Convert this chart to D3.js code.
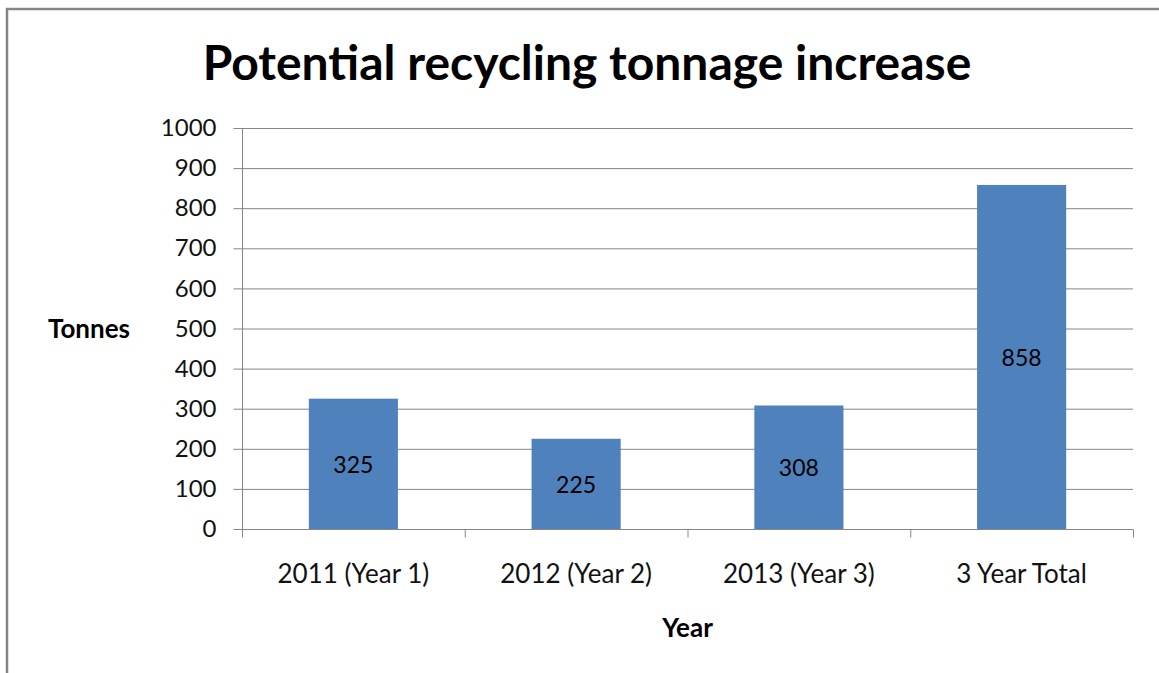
<!DOCTYPE html>
<html>
<head>
<meta charset="utf-8">
<script src="https://cdn.jsdelivr.net/npm/d3@7"></script>
<style>
  body { margin: 0; background: #fff; }
  svg { display: block; font-family: Lato, "Open Sans", sans-serif; }
</style>
</head>
<body>
<div id="chart-area"></div>
<script>
// chart data
var categories = ["2011 (Year 1)", "2012 (Year 2)", "2013 (Year 3)", "3 Year Total"];
var tonnes = [325, 225, 308, 858];
var yTicks = [0, 100, 200, 300, 400, 500, 600, 700, 800, 900, 1000];

var W = 1159, H = 673;
var margin = {top: 128, left: 242, right: 26, bottom: 144};
var width = W - margin.left - margin.right;
var height = H - margin.top - margin.bottom;

var svg = d3.select("#chart-area").append("svg")
    .attr("width", W)
    .attr("height", H);

// outer frame
svg.append("rect")
    .attr("x", 7).attr("y", 9)
    .attr("width", W + 10).attr("height", H + 10)
    .attr("fill", "none")
    .attr("stroke", "#868686")
    .attr("stroke-width", 2.5);

svg.append("text")
    .attr("x", 587).attr("y", 80)
    .attr("text-anchor", "middle")
    .attr("font-size", "48px")
    .attr("font-weight", "bold")
    .attr("fill", "#000")
    .text("Potential recycling tonnage increase");

var g = svg.append("g")
    .attr("transform", "translate(" + margin.left + "," + margin.top + ")");

var x = d3.scaleBand()
    .domain(categories)
    .range([0, width])
    .paddingInner(0)
    .paddingOuter(0);

var y = d3.scaleLinear()
    .domain([0, 1000])
    .range([height, 0]);

// gridlines
g.selectAll(".grid")
    .data(yTicks.slice(1))
    .enter().append("line")
    .attr("class", "grid")
    .attr("x1", 0).attr("x2", width)
    .attr("y1", d => y(d) + 0.5).attr("y2", d => y(d) + 0.5)
    .attr("stroke", "#868686")
    .attr("stroke-width", 1);

var barW = x.bandwidth() / 2.5;

g.selectAll(".bar")
    .data(tonnes)
    .enter().append("rect")
    .attr("class", "bar")
    .attr("x", (d, i) => x(categories[i]) + (x.bandwidth() - barW) / 2)
    .attr("y", d => y(d))
    .attr("width", barW)
    .attr("height", d => height - y(d))
    .attr("fill", "#4F81BD");

g.selectAll(".val")
    .data(tonnes)
    .enter().append("text")
    .attr("class", "val")
    .attr("x", (d, i) => x(categories[i]) + x.bandwidth() / 2)
    .attr("y", d => (y(d) + height) / 2 + 9)
    .attr("text-anchor", "middle")
    .attr("font-size", "23px")
    .attr("fill", "#000")
    .text(d => d);

// y axis
var leftAxis = d3.axisLeft(y)
    .tickValues(yTicks)
    .tickFormat(d3.format("d"))
    .tickSize(9)
    .tickPadding(17);
var ya = g.append("g")
    .attr("class", "left axis")
    .attr("transform", "translate(0.5,0)")
    .call(leftAxis);
ya.select(".domain").attr("d", "M0," + height + "V0").attr("stroke", "#868686");
ya.selectAll(".tick line").attr("stroke", "#868686");
ya.selectAll(".tick text")
    .attr("font-size", "24px")
    .attr("font-family", "Lato, sans-serif")
    .attr("fill", "#111");

// x axis
var bottomAxis = d3.axisBottom(x).tickSize(0).tickPadding(35);
var xa = g.append("g")
    .attr("class", "bottom axis")
    .attr("transform", "translate(0," + (height + 0.5) + ")")
    .call(bottomAxis);
xa.select(".domain").attr("d", "M0,0H" + width).attr("stroke", "#868686");
xa.selectAll(".tick text")
    .attr("font-size", "26px")
    .attr("font-family", "Lato, sans-serif")
    .attr("fill", "#111");
// boundary ticks between categories
xa.selectAll(".cat-tick")
    .data(d3.range(categories.length + 1))
    .enter().append("line")
    .attr("class", "cat-tick")
    .attr("x1", i => i * x.step() + 0.5).attr("x2", i => i * x.step() + 0.5)
    .attr("y1", 0).attr("y2", 8)
    .attr("stroke", "#868686");

svg.append("text")
    .attr("x", 89).attr("y", 338)
    .attr("text-anchor", "middle")
    .attr("font-size", "26px")
    .attr("font-weight", "bold")
    .attr("fill", "#000")
    .text("Tonnes");

g.append("text")
    .attr("x", width / 2).attr("y", 637 - margin.top)
    .attr("text-anchor", "middle")
    .attr("font-size", "26px")
    .attr("font-weight", "bold")
    .attr("fill", "#000")
    .text("Year");
</script>
</body>
</html>
